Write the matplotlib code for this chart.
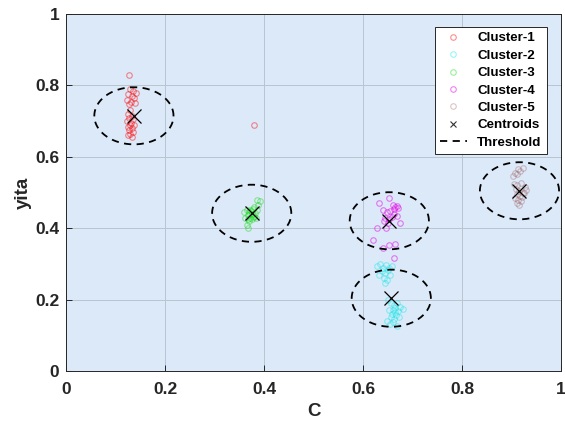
import numpy as np
import matplotlib
matplotlib.use("Agg")
import matplotlib.pyplot as plt

plt.rcParams['font.family'] = ['Liberation Sans', 'DejaVu Sans']

c1_x = [0.128, 0.130, 0.136, 0.142, 0.126, 0.134, 0.138, 0.124, 0.132, 0.140, 0.128,
        0.130, 0.126, 0.134, 0.128, 0.136, 0.124, 0.132, 0.130, 0.138, 0.126, 0.134,
        0.128, 0.136, 0.130, 0.126, 0.134, 0.380]
c1_y = [0.830, 0.790, 0.785, 0.780, 0.775, 0.770, 0.765, 0.760, 0.755, 0.752, 0.748,
        0.730, 0.720, 0.715, 0.710, 0.705, 0.700, 0.695, 0.690, 0.688, 0.685, 0.680,
        0.675, 0.670, 0.665, 0.660, 0.655, 0.690]

c2_x = [0.628, 0.634, 0.640, 0.646, 0.652, 0.658, 0.638, 0.644, 0.650, 0.632, 0.642, 0.648,
        0.654, 0.644, 0.650, 0.656, 0.662, 0.668, 0.674, 0.680, 0.660, 0.664, 0.670, 0.652,
        0.658, 0.666, 0.672, 0.656, 0.662, 0.648, 0.654, 0.660, 0.668, 0.664]
c2_y = [0.295, 0.300, 0.290, 0.298, 0.288, 0.294, 0.280, 0.275, 0.282, 0.270, 0.262, 0.255,
        0.268, 0.248, 0.198, 0.190, 0.185, 0.192, 0.180, 0.175, 0.172, 0.165, 0.168, 0.170,
        0.160, 0.158, 0.150, 0.150, 0.145, 0.140, 0.132, 0.138, 0.126, 0.176]

c3_x = [0.375, 0.370, 0.380, 0.365, 0.385, 0.372, 0.378, 0.368, 0.382, 0.376, 0.388, 0.392,
        0.386, 0.360, 0.362, 0.370, 0.365, 0.368, 0.380, 0.374, 0.379, 0.371, 0.383, 0.367]
c3_y = [0.440, 0.445, 0.435, 0.450, 0.450, 0.430, 0.455, 0.438, 0.442, 0.425, 0.465, 0.475,
        0.480, 0.445, 0.430, 0.420, 0.410, 0.400, 0.460, 0.448, 0.432, 0.452, 0.428, 0.425]

c4_x = [0.653, 0.633, 0.660, 0.664, 0.668, 0.670, 0.662, 0.640, 0.648, 0.655, 0.662, 0.668,
        0.645, 0.652, 0.658, 0.642, 0.650, 0.675, 0.629, 0.646, 0.621, 0.641, 0.653, 0.665, 0.663]
c4_y = [0.484, 0.472, 0.465, 0.460, 0.462, 0.457, 0.455, 0.450, 0.445, 0.448, 0.440, 0.435,
        0.430, 0.425, 0.432, 0.420, 0.415, 0.415, 0.402, 0.400, 0.367, 0.344, 0.353, 0.356, 0.317]

c5_x = [0.902, 0.910, 0.918, 0.924, 0.906, 0.914, 0.904, 0.912, 0.920, 0.928, 0.908, 0.916,
        0.924, 0.930, 0.910, 0.918, 0.926, 0.906, 0.914, 0.922, 0.912, 0.920, 0.916]
c5_y = [0.545, 0.552, 0.560, 0.570, 0.555, 0.565, 0.525, 0.520, 0.528, 0.515, 0.510, 0.505,
        0.500, 0.508, 0.495, 0.490, 0.498, 0.485, 0.480, 0.488, 0.470, 0.475, 0.465]

cent_x = [0.137, 0.657, 0.375, 0.653, 0.916]
cent_y = [0.715, 0.204, 0.442, 0.421, 0.505]
radius = 0.08

labels = ['Cluster-1', 'Cluster-2', 'Cluster-3', 'Cluster-4', 'Cluster-5']
colors = [(1, 0, 0), (0, 0.9, 0.9), (0, 0.85, 0), (0.9, 0, 0.9), (0.6, 0.35, 0.35)]
alphas = [0.45, 0.4, 0.4, 0.5, 0.35]

fig = plt.figure(figsize=(5.65, 4.26), dpi=100)
ax = fig.add_axes([0.117, 0.129, 0.876, 0.838])
ax.set_facecolor('#dce9f8')

data = [(c1_x, c1_y), (c2_x, c2_y), (c3_x, c3_y), (c4_x, c4_y), (c5_x, c5_y)]
for (xs, ys), lab, col, a in zip(data, labels, colors, alphas):
    ax.plot(xs, ys, 'o', ms=4, mfc='none', mec=col + (a,), mew=0.8, label=lab, zorder=3)

ax.plot(cent_x, cent_y, 'x', color='black', ms=10, mew=0.9, zorder=4)
ax.plot([], [], 'x', color='#333333', ms=5, mew=0.8, label='Centroids')

t = np.linspace(0, 2 * np.pi, 200)
for i, (cx, cy) in enumerate(zip(cent_x, cent_y)):
    ax.plot(cx + radius * np.cos(t), cy + radius * np.sin(t), '--', color='black', lw=1.3,
            dashes=(4, 3), label='Threshold' if i == 0 else None, zorder=4)

ax.set_xlim(0, 1)
ax.set_ylim(0, 1)
ticks = [0, 0.2, 0.4, 0.6, 0.8, 1]
ticklabels = ['0', '0.2', '0.4', '0.6', '0.8', '1']
ax.set_xticks(ticks)
ax.set_xticklabels(ticklabels)
ax.set_yticks(ticks)
ax.set_yticklabels(ticklabels)
ax.grid(True, color='#b8c4d0', lw=0.7)
ax.set_axisbelow(True)
ax.tick_params(direction='in', length=4, labelsize=12.5, colors='#262626', width=0.7)
ax.tick_params(axis='x', pad=8)
ax.tick_params(axis='y', pad=5)
for lbl in ax.get_xticklabels() + ax.get_yticklabels():
    lbl.set_fontweight('bold')
for s in ax.spines.values():
    s.set_color('#262626')
    s.set_linewidth(0.7)
ax.set_xlabel('C', fontsize=13.5, fontweight='bold', color='#262626', labelpad=4)
ax.set_ylabel('yita', fontsize=13.5, fontweight='bold', color='#262626', labelpad=2)

leg = ax.legend(loc='upper right', prop={'weight': 'bold', 'size': 9.6},
                fancybox=False, framealpha=1, edgecolor='#262626', borderpad=0.4,
                handlelength=2.0, labelspacing=0.38, bbox_to_anchor=(0.985, 0.983))
leg.get_frame().set_linewidth(0.7)

fig.savefig('out.png', dpi=100)
